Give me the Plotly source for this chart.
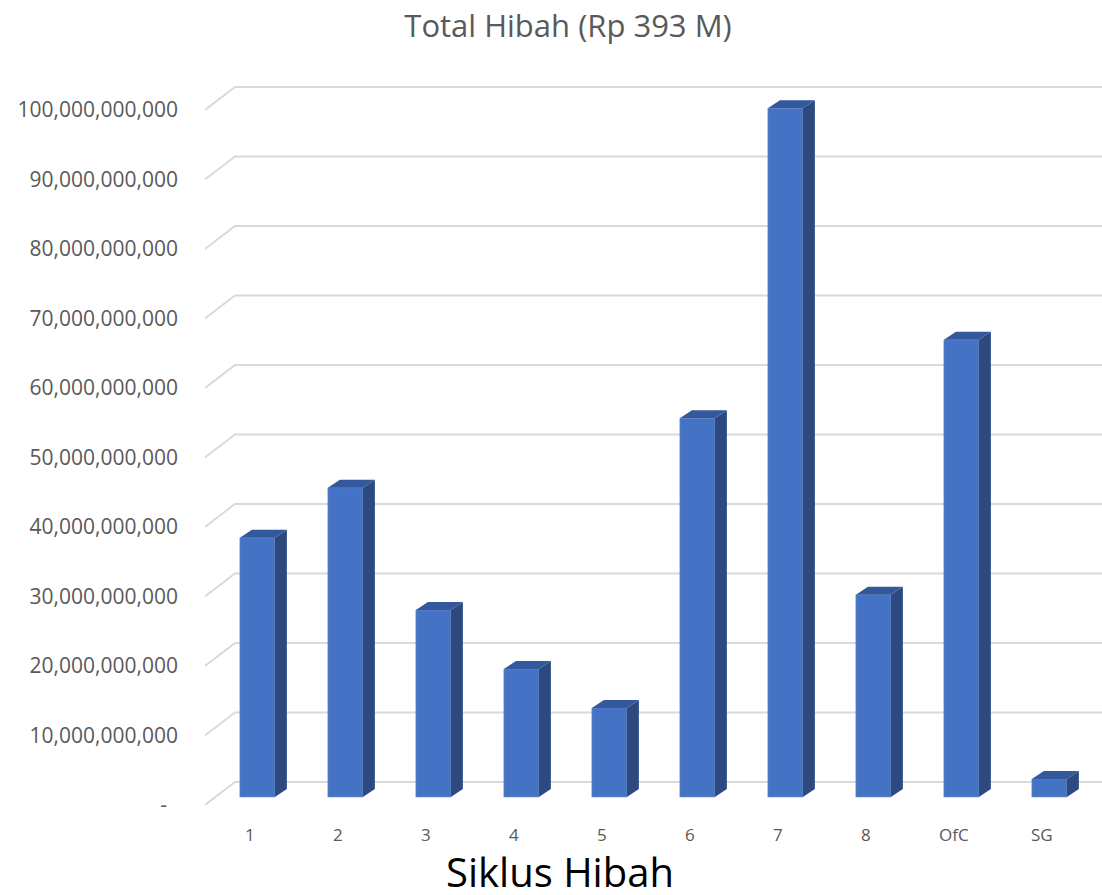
import plotly.graph_objects as go

categories = ["1", "2", "3", "4", "5", "6", "7", "8", "OfC", "SG"]
values = [37.3e9, 44.5e9, 26.9e9, 18.4e9, 12.8e9, 54.5e9, 99.1e9, 29.1e9, 65.8e9, 2.6e9]
tick_values = [i * 10e9 for i in range(11)]
tick_labels = ["-\u00a0\u00a0"] + [f"{int(v):,}" for v in tick_values[1:]]

W, H = 1102, 895

# pseudo-3D geometry (in axis units)
PX_PER_CAT = 88.0
PX_PER_UNIT = 6.95 / 1e9
def px_x(p):
    return p / PX_PER_CAT
def px_y(p):
    return p / PX_PER_UNIT

bar_off_x = px_x(7.5)
bar_base = px_y(8)
bar_w = px_x(35)
side_dx = px_x(12)
side_dy = px_y(8)
wall_dx = px_x(30)
wall_dy = px_y(23)

plot_l, plot_t, plot_b = 205, 60, 815
plot_w = W - plot_l
plot_h = plot_b - plot_t

x_left = -0.51
x_right = x_left + plot_w / PX_PER_CAT
y_bottom = -px_y(10)
y_top = px_y(745)

FRONT = "#4472C4"
SIDE = "#2C4A80"
TOP = "#34589C"

fig = go.Figure()

centers = [i + bar_off_x for i in range(len(categories))]
fig.add_trace(go.Bar(
    x=centers, y=values, base=bar_base, width=bar_w,
    marker=dict(color=FRONT, line=dict(color="#6D8FD0", width=0.6)),
    hoverinfo="skip", showlegend=False,
))

sx, sy, tx, ty = [], [], [], []
for c, v in zip(centers, values):
    xl = c - bar_w / 2
    xr = c + bar_w / 2
    top = bar_base + v
    sx += [xr, xr + side_dx, xr + side_dx, xr, xr, None]
    sy += [bar_base, bar_base + side_dy, top + side_dy, top, bar_base, None]
    tx += [xl, xl + side_dx, xr + side_dx, xr, xl, None]
    ty += [top, top + side_dy, top + side_dy, top, top, None]

fig.add_trace(go.Scatter(x=sx, y=sy, fill="toself", fillcolor=SIDE, mode="lines",
                         line=dict(width=0, color=SIDE), hoverinfo="skip", showlegend=False))
fig.add_trace(go.Scatter(x=tx, y=ty, fill="toself", fillcolor=TOP, mode="lines",
                         line=dict(width=0, color=TOP), hoverinfo="skip", showlegend=False))

shapes = []
for v in tick_values:
    path = (f"M {x_left},{v} L {x_left + wall_dx},{v + wall_dy} "
            f"L {x_right + 1},{v + wall_dy}")
    shapes.append(dict(type="path", path=path, xref="x", yref="y", layer="below",
                       line=dict(color="#D9D9D9", width=1.8)))

FONT = "Open Sans"
fig.update_layout(
    width=W, height=H,
    margin=dict(l=plot_l, r=0, t=plot_t, b=H - plot_b),
    plot_bgcolor="white", paper_bgcolor="white",
    shapes=shapes,
    title=dict(text="Total Hibah (Rp 393 M)", x=568 / W, xanchor="center",
               yref="container", y=1 - 26 / H, yanchor="middle",
               font=dict(family=FONT, size=31, color="#595959")),
    xaxis=dict(range=[x_left, x_right], tickvals=list(range(len(categories))),
               ticktext=categories, showgrid=False, zeroline=False, showline=False,
               ticks="", ticklabelstandoff=8,
               tickfont=dict(family=FONT, size=17, color="#595959")),
    yaxis=dict(range=[y_bottom, y_top], tickvals=tick_values, ticktext=tick_labels,
               showgrid=False, zeroline=False, showline=False, ticks="",
               ticklabelstandoff=26,
               tickfont=dict(family=FONT, size=21, color="#595959")),
    annotations=[dict(text="Siklus Hibah", xref="paper", yref="paper",
                      x=(560 - plot_l) / plot_w, y=(plot_b - 871) / plot_h,
                      xanchor="center", yanchor="middle", showarrow=False,
                      font=dict(family=FONT, size=40, color="#000000"))],
)

fig.write_html("out.html", config={"displayModeBar": False},
               post_script="document.body.style.margin='0';")
